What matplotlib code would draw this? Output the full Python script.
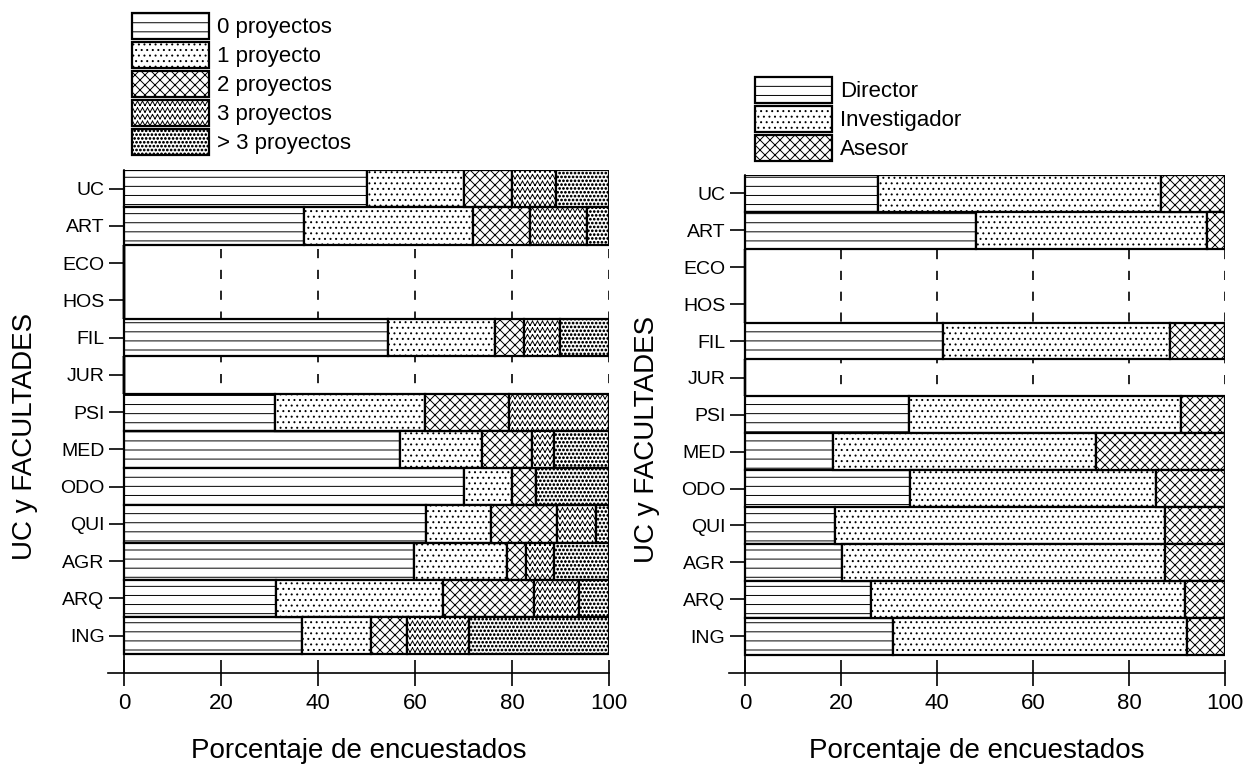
#!/usr/bin/env python3
"""Participación en proyectos y rol desempeñado, por UC y facultades.

Uso:
  python plot.py
"""

import warnings

import numpy as np
import matplotlib

matplotlib.use("Agg")
import matplotlib.pyplot as plt
import matplotlib.hatch as mhatch
from matplotlib.patches import Patch
from matplotlib.path import Path

warnings.filterwarnings("ignore", category=matplotlib.MatplotlibDeprecationWarning)

categorias = ["UC", "ART", "ECO", "HOS", "FIL", "JUR", "PSI",
              "MED", "ODO", "QUI", "AGR", "ARQ", "ING"]

# Número de proyectos en que ha participado (% de encuestados)
proy_0 = [50.0, 37.2, 0, 0, 54.4, 0, 31.1, 56.9, 70.1, 62.2, 59.7, 31.3, 36.6]
proy_1 = [20.0, 34.8, 0, 0, 22.1, 0, 31.0, 17.0, 10.0, 13.5, 19.3, 34.4, 14.3]
proy_2 = [10.0, 11.8, 0, 0, 5.9, 0, 17.3, 10.3, 4.9, 13.5, 3.8, 18.8, 7.4]
proy_3 = [9.0, 11.6, 0, 0, 7.4, 0, 20.6, 4.5, 0.0, 8.1, 5.8, 9.3, 12.8]
proy_mas3 = [11.0, 4.6, 0, 0, 10.2, 0, 0.0, 11.3, 15.0, 2.7, 11.4, 6.2, 28.9]
etiquetas_proy = ["0 proyectos", "1 proyecto", "2 proyectos",
                  "3 proyectos", "> 3 proyectos"]

# Rol desempeñado en el proyecto (% de encuestados)
director = [27.7, 48.1, 0, 0, 41.2, 0, 34.1, 18.4, 34.4, 18.8, 20.2, 26.2, 30.8]
investigador = [58.9, 48.1, 0, 0, 47.3, 0, 56.7, 54.7, 51.3, 68.7, 67.3, 65.5, 61.2]
asesor = [13.4, 3.8, 0, 0, 11.5, 0, 9.2, 26.9, 14.3, 12.5, 12.5, 8.3, 8.0]
etiquetas_rol = ["Director", "Investigador", "Asesor"]

ticks_x = [0, 20, 40, 60, 80, 100]

# Tramas propias: 'h' lineas, '...' puntos finos, 'c' cruzada,
# 'w' ondas, 'd' puntos densos
tramas_proy = ["h", "...", "c", "w", "d"]
tramas_rol = ["h", "...", "c"]


# --- tramas propias -------------------------------------------------------

class TramaHorizontal(mhatch.HatchPatternBase):
    """'h': lineas horizontales, 11 por pulgada."""

    def __init__(self, hatch, density):
        self.num_lines = hatch.count("h") * 11
        self.num_vertices = self.num_lines * 2

    def set_vertices_and_codes(self, vertices, codes):
        filas = (np.arange(self.num_lines) + 0.5) / self.num_lines
        vertices[0::2, 0] = 0.0
        vertices[0::2, 1] = filas
        vertices[1::2, 0] = 1.0
        vertices[1::2, 1] = filas
        codes[0::2] = Path.MOVETO
        codes[1::2] = Path.LINETO


class TramaCruzada(mhatch.HatchPatternBase):
    """'c': diagonales cruzadas, 10 por pulgada."""

    def __init__(self, hatch, density):
        self.num_lines = hatch.count("c") * 10
        if self.num_lines:
            self.num_vertices = 4 * (2 * self.num_lines + 1)
        else:
            self.num_vertices = 0

    def set_vertices_and_codes(self, vertices, codes):
        n = self.num_lines
        d = np.arange(-n, n + 1) / n
        m = len(d)
        vertices[0:2 * m:2] = np.column_stack([d, np.zeros(m)])
        vertices[1:2 * m:2] = np.column_stack([d + 1, np.ones(m)])
        vertices[2 * m::2] = np.column_stack([d, np.ones(m)])
        vertices[2 * m + 1::2] = np.column_stack([d + 1, np.zeros(m)])
        codes[0::2] = Path.MOVETO
        codes[1::2] = Path.LINETO


class TramaOndas(mhatch.HatchPatternBase):
    """'w': filas de zigzag (segmentos sueltos, sin relleno)."""

    def __init__(self, hatch, density):
        self.num_lines = hatch.count("w") * 15
        self.num_segs = 40
        self.num_vertices = self.num_lines * self.num_segs * 2

    def set_vertices_and_codes(self, vertices, codes):
        filas = (np.arange(self.num_lines) + 0.5) / self.num_lines
        xs = np.linspace(0, 1, self.num_segs + 1)
        amp = 0.33 / self.num_lines
        dy = np.where(np.arange(self.num_segs + 1) % 2 == 0, -amp, amp)
        k = 0
        for y0 in filas:
            for i in range(self.num_segs):
                vertices[k] = (xs[i], y0 + dy[i])
                vertices[k + 1] = (xs[i + 1], y0 + dy[i + 1])
                k += 2
        codes[0::2] = Path.MOVETO
        codes[1::2] = Path.LINETO


class TramaPuntosDensos(mhatch.Circles):
    """'d': puntos gruesos y apretados."""
    size = 0.22
    filled = True

    def __init__(self, hatch, density):
        self.num_rows = hatch.count("d") * 26
        super().__init__(hatch, density)


mhatch._hatch_types.extend(
    [TramaHorizontal, TramaCruzada, TramaOndas, TramaPuntosDensos])


# --- dibujo ---------------------------------------------------------------

def dibujar_panel(ax, series, tramas):
    n = len(categorias)
    y = np.arange(n)[::-1]

    # guias discontinuas, solo se ven donde no hay barra
    ax.vlines(ticks_x[1:], -0.5, n - 0.5, colors="black",
              linestyles=(0, (5.5, 7.0)), linewidth=1.2, zorder=1)

    izquierda = np.zeros(n)
    for valores, trama in zip(series, tramas):
        ax.barh(y, valores, left=izquierda, height=1.0, color="white",
                edgecolor="black", linewidth=1.6, hatch=trama, zorder=2)
        izquierda += np.array(valores, dtype=float)

    ax.set_xlim(-3.3, 100)
    ax.set_ylim(-1, n - 0.5)
    for lado in ("top", "right"):
        ax.spines[lado].set_visible(False)
    ax.spines["left"].set_position(("data", 0))
    ax.spines["left"].set_linewidth(1.2)
    ax.spines["bottom"].set_linewidth(1.2)

    ax.set_xticks(ticks_x)
    ax.set_yticks(y, categorias)
    ax.tick_params(axis="x", direction="inout", length=19, width=1.2,
                   labelsize=16, pad=5)
    ax.tick_params(axis="y", direction="out", length=11, width=1.2,
                   labelsize=14, pad=3)
    ax.set_xlabel("Porcentaje de encuestados", fontsize=20, labelpad=17)
    ax.set_ylabel("UC y FACULTADES", fontsize=20)
    ax.yaxis.set_label_coords(-0.14, 0.47)


def leyenda(fig, tramas, etiquetas, x, y):
    fs_px = 16 * 100 / 72
    handles = [Patch(facecolor="white", edgecolor="black", linewidth=1.6,
                     hatch=t) for t in tramas]
    fig.legend(handles, etiquetas, loc="upper left",
               bbox_to_anchor=(x / 1244, 1 - y / 764), frameon=False,
               fontsize=16, borderpad=0, borderaxespad=0,
               handlelength=77 / fs_px, handleheight=1.425,
               handletextpad=8 / fs_px, labelspacing=3 / fs_px)


def main():
    plt.rcParams["font.family"] = ["Liberation Sans", "DejaVu Sans"]
    plt.rcParams["hatch.linewidth"] = 0.7

    fig = plt.figure(figsize=(12.44, 7.64), dpi=100)
    ax1 = fig.add_axes([108 / 1244, 91 / 764, 501 / 1244, 503 / 764])
    ax2 = fig.add_axes([729 / 1244, 91 / 764, 496 / 1244, 498 / 764])

    dibujar_panel(ax1, [proy_0, proy_1, proy_2, proy_3, proy_mas3], tramas_proy)
    dibujar_panel(ax2, [director, investigador, asesor], tramas_rol)

    leyenda(fig, tramas_proy, etiquetas_proy, 132, 13)
    leyenda(fig, tramas_rol, etiquetas_rol, 755, 77)

    fig.savefig("out.png", dpi=100)


if __name__ == "__main__":
    main()
